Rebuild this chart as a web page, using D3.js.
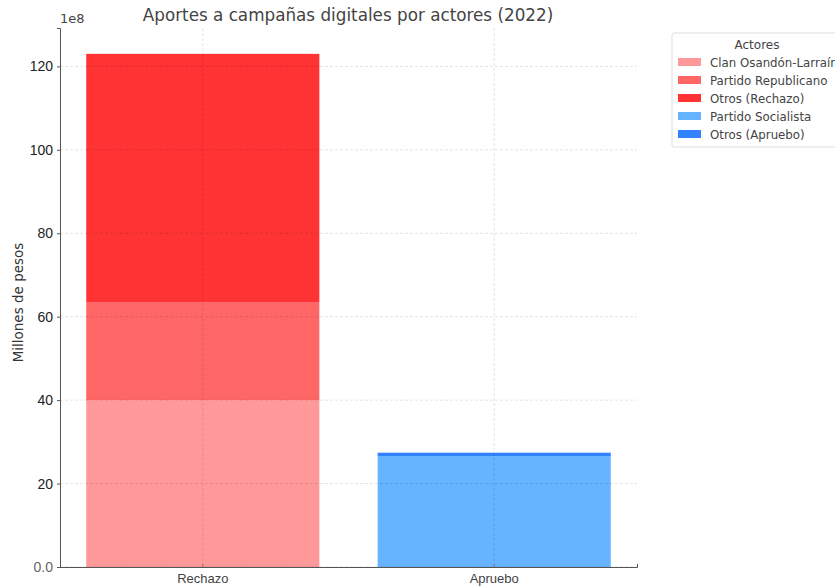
<!DOCTYPE html>
<html>
<head>
<meta charset="utf-8">
<script src="https://cdn.jsdelivr.net/npm/d3@7"></script>
<style>
  body { margin: 0; background: #fff; }
  svg { display: block; font-family: "DejaVu Sans", sans-serif; }
</style>
</head>
<body>
<svg id="chart" width="835" height="586"></svg>
<script>
// data (values in units of 1e8 pesos)
const categories = ['Rechazo', 'Apruebo'];
const seriesNames = ['Clan Osandón-Larraín', 'Partido Republicano', 'Otros (Rechazo)', 'Partido Socialista', 'Otros (Apruebo)'];
const rechazoValues = [40.0, 23.5, 59.5, 0, 0];
const apruebloValues = [0, 0, 0, 26.6, 0.8];
const yTicks = [0, 20, 40, 60, 80, 100, 120];
const colors = ['#ff9999', '#ff6666', '#ff3333', '#66b3ff', '#3382ff'];

const margin = { left: 60, right: 198, top: 28, bottom: 19 };
const width = 835 - margin.left - margin.right;
const height = 586 - margin.top - margin.bottom;

const svg = d3.select('#chart');
const g = svg.append('g').attr('transform', `translate(${margin.left},${margin.top})`);

const x = d3.scaleBand().domain(categories).range([0, width]).paddingInner(0.2).paddingOuter(0.09);
const y = d3.scaleLinear().domain([0, 129.2]).range([height, 0]);

// stack the rows
const rows = categories.map((c, i) => {
    const vals = i === 0 ? rechazoValues : apruebloValues;
    const row = { cat: c };
    seriesNames.forEach((s, j) => { row[s] = vals[j]; });
    return row;
});
const stacked = d3.stack().keys(seriesNames)(rows);

stacked.forEach((layer, j) => {
    g.selectAll(null).data(layer.filter(d => d[1] - d[0] > 0)).enter().append('rect')
        .attr('x', d => x(d.data.cat))
        .attr('width', x.bandwidth())
        .attr('y', d => y(d[1]))
        .attr('height', d => y(d[0]) - y(d[1]))
        .attr('fill', colors[j]);
});

// grid on top, dashed and faint
g.selectAll('.hgrid').data(yTicks).enter().append('line')
    .attr('x1', 0).attr('x2', width)
    .attr('y1', d => y(d)).attr('y2', d => y(d))
    .attr('stroke', 'rgba(0,0,0,0.11)').attr('stroke-dasharray', '3,2');
g.selectAll('.vgrid').data(categories).enter().append('line')
    .attr('x1', d => x(d) + x.bandwidth() / 2).attr('x2', d => x(d) + x.bandwidth() / 2)
    .attr('y1', 0).attr('y2', height)
    .attr('stroke', 'rgba(0,0,0,0.11)').attr('stroke-dasharray', '3,2');

// axes
const yAxis = g.append('g')
    .call(d3.axisLeft(y).tickValues(yTicks).tickSize(3).tickPadding(4)
        .tickFormat(d => d === 0 ? '0.0' : d3.format('d')(d)));
yAxis.select('.domain').attr('stroke', '#555');
yAxis.selectAll('.tick line').attr('stroke', '#555');
yAxis.selectAll('.tick text').attr('font-size', 14).attr('fill', '#222')
    .attr('font-family', '"Liberation Sans", Arial, sans-serif');
yAxis.selectAll('.tick text').filter(d => d === 0).attr('fill', '#666');

const xAxis = g.append('g').attr('transform', `translate(0,${height})`)
    .call(d3.axisBottom(x).tickSize(-3).tickPadding(7));
xAxis.select('.domain').attr('stroke', '#555');
xAxis.selectAll('.tick line').attr('stroke', '#777');
xAxis.selectAll('.tick text').attr('font-size', 13).attr('fill', '#444');

// offset text & labels
svg.append('text').attr('x', 60).attr('y', 23).attr('font-size', 13).attr('fill', '#444').text('1e8');
svg.append('text').attr('x', 348).attr('y', 21).attr('text-anchor', 'middle')
    .attr('font-size', 16.8).attr('fill', '#444')
    .text('Aportes a campañas digitales por actores (2022)');
svg.append('text')
    .attr('transform', `translate(23,${margin.top + height / 2 + 5}) rotate(-90)`)
    .attr('text-anchor', 'middle').attr('font-size', 13.5).attr('fill', '#333')
    .text('Millones de pesos');

// legend
const lg = svg.append('g').attr('transform', 'translate(672,33)');
lg.append('rect').attr('width', 175).attr('height', 114).attr('rx', 2)
    .attr('fill', '#fff').attr('stroke', '#ddd');
lg.append('text').attr('x', 85).attr('y', 16).attr('text-anchor', 'middle')
    .attr('font-size', 12).attr('fill', '#444').text('Actores');
seriesNames.forEach((s, i) => {
    const row = lg.append('g').attr('transform', `translate(6,${24 + i * 18})`);
    row.append('rect').attr('width', 23).attr('height', 8).attr('y', 1).attr('fill', colors[i]);
    row.append('text').attr('x', 32).attr('y', 9.5).attr('font-size', 11.8).attr('fill', '#444').text(s);
});
</script>
</body>
</html>
